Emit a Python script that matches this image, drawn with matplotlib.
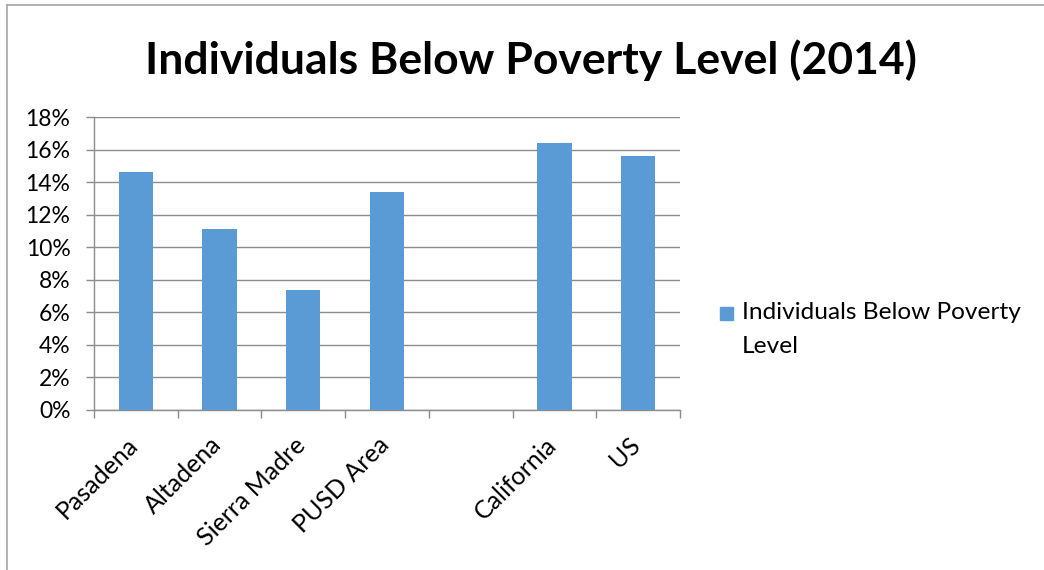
import numpy as np
import matplotlib
matplotlib.use("Agg")
import matplotlib.pyplot as plt
import matplotlib.transforms as mtransforms
from matplotlib.patches import Rectangle
from matplotlib.lines import Line2D

# Poverty rates (percent of individuals) by area, 2014
categories = ["Pasadena", "Altadena", "Sierra Madre", "PUSD Area", "", "California", "US"]
poverty_pct = [14.6, 11.1, 7.4, 13.4, np.nan, 16.4, 15.6]
y_ticks = [0, 2, 4, 6, 8, 10, 12, 14, 16, 18]
y_tick_labels = [f"{v}%" for v in y_ticks]
series_name = "Individuals Below Poverty Level"

BAR_COLOR = "#5B9BD5"
GRID_COLOR = "#8C8C8C"
FONT = ["Lato", "DejaVu Sans"]

plt.rcParams["font.family"] = FONT

W, H = 1044, 570
fig = plt.figure(figsize=(W / 100, H / 100), dpi=100)

# Chart-area border (top and left edges visible)
fig.add_artist(Line2D([7 / W, 7 / W], [0, 1 - 4.5 / H], transform=fig.transFigure,
                      color="#A6A6A6", lw=1.2))
fig.add_artist(Line2D([7 / W, 1], [1 - 4.5 / H, 1 - 4.5 / H], transform=fig.transFigure,
                      color="#A6A6A6", lw=1.2))

left, right = 94 / W, 680 / W
bottom, top = 1 - 410 / H, 1 - 117 / H
ax = fig.add_axes([left, bottom, right - left, top - bottom])

x = np.arange(len(categories))
ax.bar(x, poverty_pct, width=0.41, color=BAR_COLOR, zorder=3, label=series_name)

ax.set_xlim(-0.5, len(categories) - 0.5)
ax.set_ylim(0, 18)
ax.set_yticks(y_ticks)
ax.set_yticklabels(y_tick_labels, fontsize=16.5)
ax.yaxis.grid(True, color=GRID_COLOR, lw=1.0, zorder=0)
ax.set_axisbelow(True)

# Category labels: rotated 45 degrees, ending just under each bar
ax.set_xticks(x)
ax.set_xticklabels([""] * len(categories))
label_tf = ax.get_xaxis_transform() + mtransforms.ScaledTranslation(
    -10 / 100, -23 / 100, fig.dpi_scale_trans)
for xi, name in zip(x, categories):
    ax.text(xi, 0, name, transform=label_tf, rotation=45, ha="right", va="top",
            rotation_mode="anchor", fontsize=18)

ax.set_xticks(np.arange(-0.5, len(categories)), minor=True)
ax.tick_params(axis="x", which="major", length=0)
ax.tick_params(axis="x", which="minor", length=6, color=GRID_COLOR, width=1.0)
ax.tick_params(axis="y", length=6, color=GRID_COLOR, width=1.0, pad=11)

for s in ("top", "right"):
    ax.spines[s].set_visible(False)
for s in ("left", "bottom"):
    ax.spines[s].set_color(GRID_COLOR)
    ax.spines[s].set_linewidth(1.0)

fig.text(531 / W, 1 - 60 / H, "Individuals Below Poverty Level (2014)",
         ha="center", va="center", fontsize=32, fontweight="bold")

# Legend entry: swatch aligned with the first line of the wrapped label
fig.add_artist(Rectangle((720 / W, 1 - 320 / H), 13 / W, 13 / H,
                         transform=fig.transFigure, color=BAR_COLOR))
fig.text(742 / W, 1 - 302 / H, "Individuals Below Poverty\nLevel",
         ha="left", va="top", fontsize=17.6, linespacing=1.75)

fig.savefig("out.png", dpi=100)
